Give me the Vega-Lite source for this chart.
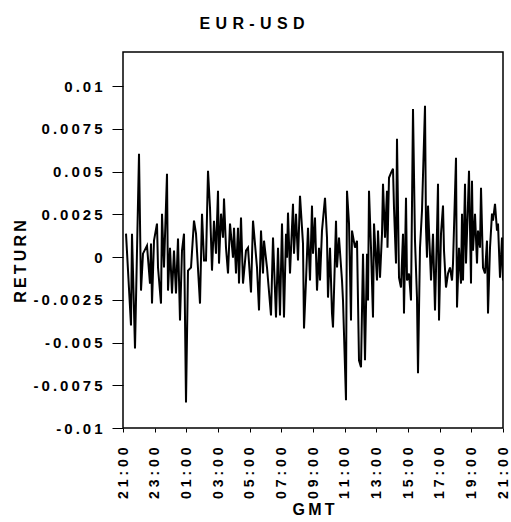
{
  "$schema": "https://vega.github.io/schema/vega-lite/v6.json",
  "width": 380,
  "height": 376,
  "autosize": {"type": "none"},
  "padding": {"left": 123, "top": 52, "right": 8, "bottom": 94},
  "background": "white",
  "title": {
    "text": "E\u2004U\u2004R\u2004-\u2004U\u2004S\u2004D",
    "font": "Liberation Sans",
    "fontSize": 16,
    "fontWeight": "bold",
    "color": "black",
    "anchor": "middle",
    "dx": -61,
    "baseline": "alphabetic",
    "offset": 7
  },
  "config": {
    "view": {"stroke": "black", "strokeWidth": 1.5},
    "axis": {"grid": false, "domain": false, "tickColor": "black", "labelColor": "black", "titleColor": "black",
      "labelFont": "Liberation Sans", "titleFont": "Liberation Sans", "labelFontWeight": "bold", "titleFontWeight": "bold"}
  },
  "data": {"values": [
    {"t": 0.19, "r": 0.00137}, {"t": 0.505, "r": -0.004}, {"t": 0.568, "r": 0.00137}, {"t": 0.758, "r": -0.00534},
    {"t": 1.011, "r": 0.00604}, {"t": 1.137, "r": -0.00196}, {"t": 1.263, "r": 0.0002}, {"t": 1.516, "r": 0.00067},
    {"t": 1.705, "r": -0.00155}, {"t": 1.768, "r": 0.00079}, {"t": 1.832, "r": -0.00272}, {"t": 1.958, "r": 0.00096},
    {"t": 2.147, "r": 0.00196}, {"t": 2.211, "r": -0.00061}, {"t": 2.4, "r": -0.00272}, {"t": 2.463, "r": 0.00254},
    {"t": 2.589, "r": -0.00061}, {"t": 2.779, "r": 0.00488}, {"t": 2.842, "r": -0.00196}, {"t": 2.968, "r": 0.00055},
    {"t": 3.095, "r": -0.00213}, {"t": 3.221, "r": 0.00038}, {"t": 3.347, "r": -0.00213}, {"t": 3.474, "r": 0.00108},
    {"t": 3.6, "r": -0.00371}, {"t": 3.726, "r": 0.00038}, {"t": 3.853, "r": 0.00137}, {"t": 3.979, "r": -0.0085},
    {"t": 4.105, "r": -0.00079}, {"t": 4.295, "r": -0.00061}, {"t": 4.484, "r": 0.00213}, {"t": 4.611, "r": 0.00137},
    {"t": 4.863, "r": -0.00272}, {"t": 4.99, "r": 0.00254}, {"t": 5.116, "r": -0.0002}, {"t": 5.242, "r": -0.0002},
    {"t": 5.369, "r": 0.00505}, {"t": 5.495, "r": 0.00289}, {"t": 5.621, "r": -0.00079}, {"t": 5.747, "r": 0.00213},
    {"t": 5.874, "r": 0.0002}, {"t": 6.0, "r": 0.00388}, {"t": 6.063, "r": -0.00038}, {"t": 6.19, "r": 0.00254},
    {"t": 6.316, "r": 0.00114}, {"t": 6.379, "r": 0.00342}, {"t": 6.505, "r": 0.00055}, {"t": 6.632, "r": -0.00096},
    {"t": 6.758, "r": 0.00196}, {"t": 6.947, "r": -0.00003}, {"t": 7.011, "r": 0.00172}, {"t": 7.137, "r": -0.00096},
    {"t": 7.263, "r": 0.00172}, {"t": 7.326, "r": -0.00155}, {"t": 7.453, "r": 0.00231}, {"t": 7.579, "r": -0.00155},
    {"t": 7.768, "r": 0.00038}, {"t": 7.895, "r": 0.00055}, {"t": 8.084, "r": -0.00207}, {"t": 8.211, "r": 0.00213},
    {"t": 8.463, "r": -0.00061}, {"t": 8.59, "r": -0.00312}, {"t": 8.716, "r": 0.00155}, {"t": 8.842, "r": -0.00096},
    {"t": 8.905, "r": 0.00096}, {"t": 9.095, "r": -0.00061}, {"t": 9.347, "r": -0.00342}, {"t": 9.474, "r": 0.00114},
    {"t": 9.663, "r": -0.00353}, {"t": 9.79, "r": 0.00055}, {"t": 9.916, "r": -0.00342}, {"t": 10.042, "r": 0.00196},
    {"t": 10.168, "r": -0.00353}, {"t": 10.295, "r": 0.00137}, {"t": 10.358, "r": -0.00003}, {"t": 10.421, "r": 0.0026},
    {"t": 10.547, "r": -0.00096}, {"t": 10.737, "r": 0.00312}, {"t": 10.8, "r": 0.0002}, {"t": 10.926, "r": 0.00254},
    {"t": 11.053, "r": -0.0002}, {"t": 11.179, "r": 0.00359}, {"t": 11.368, "r": 0.00079}, {"t": 11.432, "r": -0.00418},
    {"t": 11.558, "r": -0.00137}, {"t": 11.684, "r": 0.00172}, {"t": 11.811, "r": -0.00137}, {"t": 11.937, "r": 0.00301},
    {"t": 12.0, "r": 0.0002}, {"t": 12.126, "r": 0.00231}, {"t": 12.253, "r": -0.00196}, {"t": 12.379, "r": 0.00055},
    {"t": 12.442, "r": -0.00137}, {"t": 12.568, "r": 0.00155}, {"t": 12.758, "r": 0.00347}, {"t": 12.884, "r": 0.00114},
    {"t": 12.947, "r": -0.00237}, {"t": 13.074, "r": 0.00055}, {"t": 13.2, "r": -0.0033}, {"t": 13.263, "r": -0.00412},
    {"t": 13.453, "r": 0.00213}, {"t": 13.516, "r": -0.00061}, {"t": 13.642, "r": 0.00114}, {"t": 13.832, "r": -0.00137},
    {"t": 13.895, "r": -0.00254}, {"t": 14.084, "r": -0.00838}, {"t": 14.147, "r": 0.00388}, {"t": 14.274, "r": 0.00196},
    {"t": 14.4, "r": -0.00371}, {"t": 14.463, "r": 0.00155}, {"t": 14.653, "r": 0.00055}, {"t": 14.779, "r": 0.00096},
    {"t": 14.905, "r": -0.00604}, {"t": 15.032, "r": -0.00645}, {"t": 15.158, "r": 0.0002}, {"t": 15.284, "r": -0.00604},
    {"t": 15.411, "r": 0.0002}, {"t": 15.474, "r": -0.00254}, {"t": 15.537, "r": 0.00388}, {"t": 15.663, "r": 0.00055},
    {"t": 15.789, "r": -0.00353}, {"t": 15.853, "r": 0.00196}, {"t": 16.042, "r": -0.00137}, {"t": 16.105, "r": 0.00155},
    {"t": 16.232, "r": -0.0012}, {"t": 16.358, "r": 0.00137}, {"t": 16.421, "r": 0.00429}, {"t": 16.547, "r": 0.00114},
    {"t": 16.674, "r": 0.00388}, {"t": 16.705, "r": 0.00055}, {"t": 16.8, "r": 0.00464}, {"t": 16.926, "r": 0.00493},
    {"t": 17.053, "r": 0.00517}, {"t": 17.116, "r": 0.00289}, {"t": 17.242, "r": -0.00038}, {"t": 17.305, "r": 0.00692},
    {"t": 17.432, "r": -0.0012}, {"t": 17.558, "r": -0.00178}, {"t": 17.684, "r": 0.00137}, {"t": 17.747, "r": -0.0033},
    {"t": 17.874, "r": 0.00347}, {"t": 17.937, "r": -0.00137}, {"t": 18.063, "r": -0.00096}, {"t": 18.189, "r": -0.00254},
    {"t": 18.316, "r": 0.00867}, {"t": 18.442, "r": 0.00096}, {"t": 18.568, "r": -0.00237}, {"t": 18.632, "r": -0.0068},
    {"t": 18.758, "r": 0.00055}, {"t": 18.884, "r": 0.00272}, {"t": 19.074, "r": 0.00885}, {"t": 19.137, "r": 0.00172},
    {"t": 19.2, "r": -0.00003}, {"t": 19.263, "r": 0.00301}, {"t": 19.453, "r": -0.00137}, {"t": 19.579, "r": 0.00137},
    {"t": 19.705, "r": -0.00312}, {"t": 19.832, "r": 0.00155}, {"t": 19.895, "r": 0.00429}, {"t": 19.958, "r": -0.00371},
    {"t": 20.084, "r": 0.00137}, {"t": 20.211, "r": 0.00301}, {"t": 20.274, "r": 0.00038}, {"t": 20.4, "r": -0.00178},
    {"t": 20.526, "r": -0.00096}, {"t": 20.653, "r": -0.00061}, {"t": 20.779, "r": -0.00137}, {"t": 20.842, "r": -0.00038},
    {"t": 21.032, "r": 0.00581}, {"t": 21.095, "r": -0.00295}, {"t": 21.221, "r": 0.00055}, {"t": 21.347, "r": -0.00155},
    {"t": 21.411, "r": 0.00254}, {"t": 21.474, "r": -0.00137}, {"t": 21.6, "r": 0.00429}, {"t": 21.663, "r": -0.00038},
    {"t": 21.789, "r": 0.00312}, {"t": 21.853, "r": 0.00505}, {"t": 21.979, "r": -0.00155}, {"t": 22.042, "r": 0.00447},
    {"t": 22.105, "r": 0.00038}, {"t": 22.232, "r": 0.00254}, {"t": 22.358, "r": -0.00038}, {"t": 22.421, "r": 0.00155},
    {"t": 22.547, "r": 0.00055}, {"t": 22.611, "r": 0.00406}, {"t": 22.737, "r": -0.00061}, {"t": 22.863, "r": -0.00096},
    {"t": 22.989, "r": 0.00096}, {"t": 23.053, "r": -0.0033}, {"t": 23.179, "r": 0.00055}, {"t": 23.305, "r": 0.00254},
    {"t": 23.368, "r": 0.00213}, {"t": 23.495, "r": 0.00312}, {"t": 23.621, "r": 0.00155}, {"t": 23.684, "r": 0.00196},
    {"t": 23.811, "r": -0.0012}, {"t": 23.937, "r": 0.00114}, {"t": 24.0, "r": -0.00137}
  ]},
  "mark": {"type": "line", "color": "black", "strokeWidth": 2, "clip": true},
  "encoding": {
    "x": {
      "field": "t", "type": "quantitative",
      "scale": {"domain": [0, 24], "nice": false, "zero": false},
      "axis": {
        "values": [0, 2, 4, 6, 8, 10, 12, 14, 16, 18, 20, 22, 24],
        "labelExpr": "join(split(['21:00','23:00','01:00','03:00','05:00','07:00','09:00','11:00','13:00','15:00','17:00','19:00','21:00'][round(datum.value/2)], ''), ' ')",
        "labelAngle": 270, "labelAlign": "right", "labelBaseline": "middle",
        "labelFontSize": 14, "tickSize": 4, "labelPadding": 15, "labelOverlap": false, "labelBound": false,
        "title": "G\u2009M\u2009T", "titleFontSize": 16, "titleX": 190, "titleY": 86, "titleBaseline": "alphabetic", "titleAlign": "center"
      }
    },
    "y": {
      "field": "r", "type": "quantitative",
      "scale": {"domain": [-0.01, 0.012], "nice": false, "zero": false},
      "axis": {
        "values": [-0.01, -0.0075, -0.005, -0.0025, 0, 0.0025, 0.005, 0.0075, 0.01],
        "labelExpr": "join(split('' + datum.value, ''), '\u2009')",
        "labelFontSize": 15, "tickSize": 11, "labelPadding": 10, "labelOverlap": false, "labelBound": false,
        "title": "R\u2009E\u2009T\u2009U\u2009R\u2009N", "titleFontSize": 16, "titleAngle": 270,
        "titleX": -103, "titleY": 209, "titleAlign": "center", "titleBaseline": "middle"
      }
    }
  }
}
